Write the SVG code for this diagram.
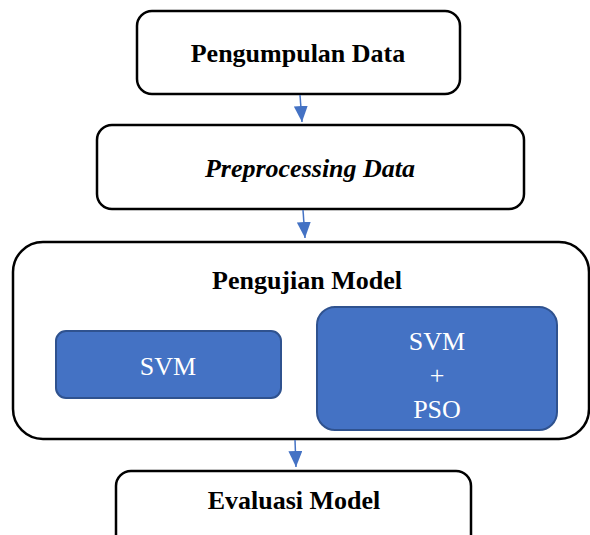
<svg xmlns="http://www.w3.org/2000/svg" width="590" height="535" viewBox="0 0 590 535">
<style>
.box{fill:#fff;stroke:#000;stroke-width:2.5}
.blue{fill:#4472C4;stroke:#2F528F;stroke-width:2}
.c{stroke:#4472C4;stroke-width:1.5;fill:none}
</style>
<defs>
<marker id="ah" markerWidth="16" markerHeight="14" refX="16" refY="7" orient="auto" markerUnits="userSpaceOnUse" viewBox="0 0 16 14">
<path d="M0,0 L16,7 L0,14 z" fill="#4472C4"/>
</marker>
</defs>
<rect width="590" height="535" fill="#fff"/>
<g font-family="Liberation Serif, serif" font-size="26" text-anchor="middle">
<g id="n1"><rect class="box" x="137" y="11" width="323" height="83" rx="15"/><text font-weight="bold" x="298" y="62">Pengumpulan Data</text></g>
<g id="n2"><rect class="box" x="97" y="125" width="427" height="84" rx="15"/><text font-weight="bold" x="310" y="177" font-style="italic">Preprocessing Data</text></g>
<g id="n3"><rect class="box" x="13" y="242" width="576" height="197" rx="30"/><text font-weight="bold" x="307" y="289">Pengujian Model</text></g>
<g id="n4"><rect class="blue" x="56" y="331" width="225" height="67" rx="10"/><text fill="#fff" x="168" y="375">SVM</text></g>
<g id="n5"><rect class="blue" x="317" y="307" width="240" height="123" rx="18"/><text fill="#fff" x="437" y="350">SVM</text><text fill="#fff" x="437" y="384">+</text><text fill="#fff" x="437" y="418">PSO</text></g>
<g id="n6"><rect class="box" x="116" y="471" width="355" height="80" rx="15"/><text font-weight="bold" x="294" y="509">Evaluasi Model</text></g>
</g>
<g id="connectors">
<line class="c" x1="300" y1="95" x2="302" y2="122" marker-end="url(#ah)"/>
<line class="c" x1="303" y1="210" x2="305" y2="238" marker-end="url(#ah)"/>
<line class="c" x1="295" y1="440" x2="296" y2="467" marker-end="url(#ah)"/>
</g>
</svg>
